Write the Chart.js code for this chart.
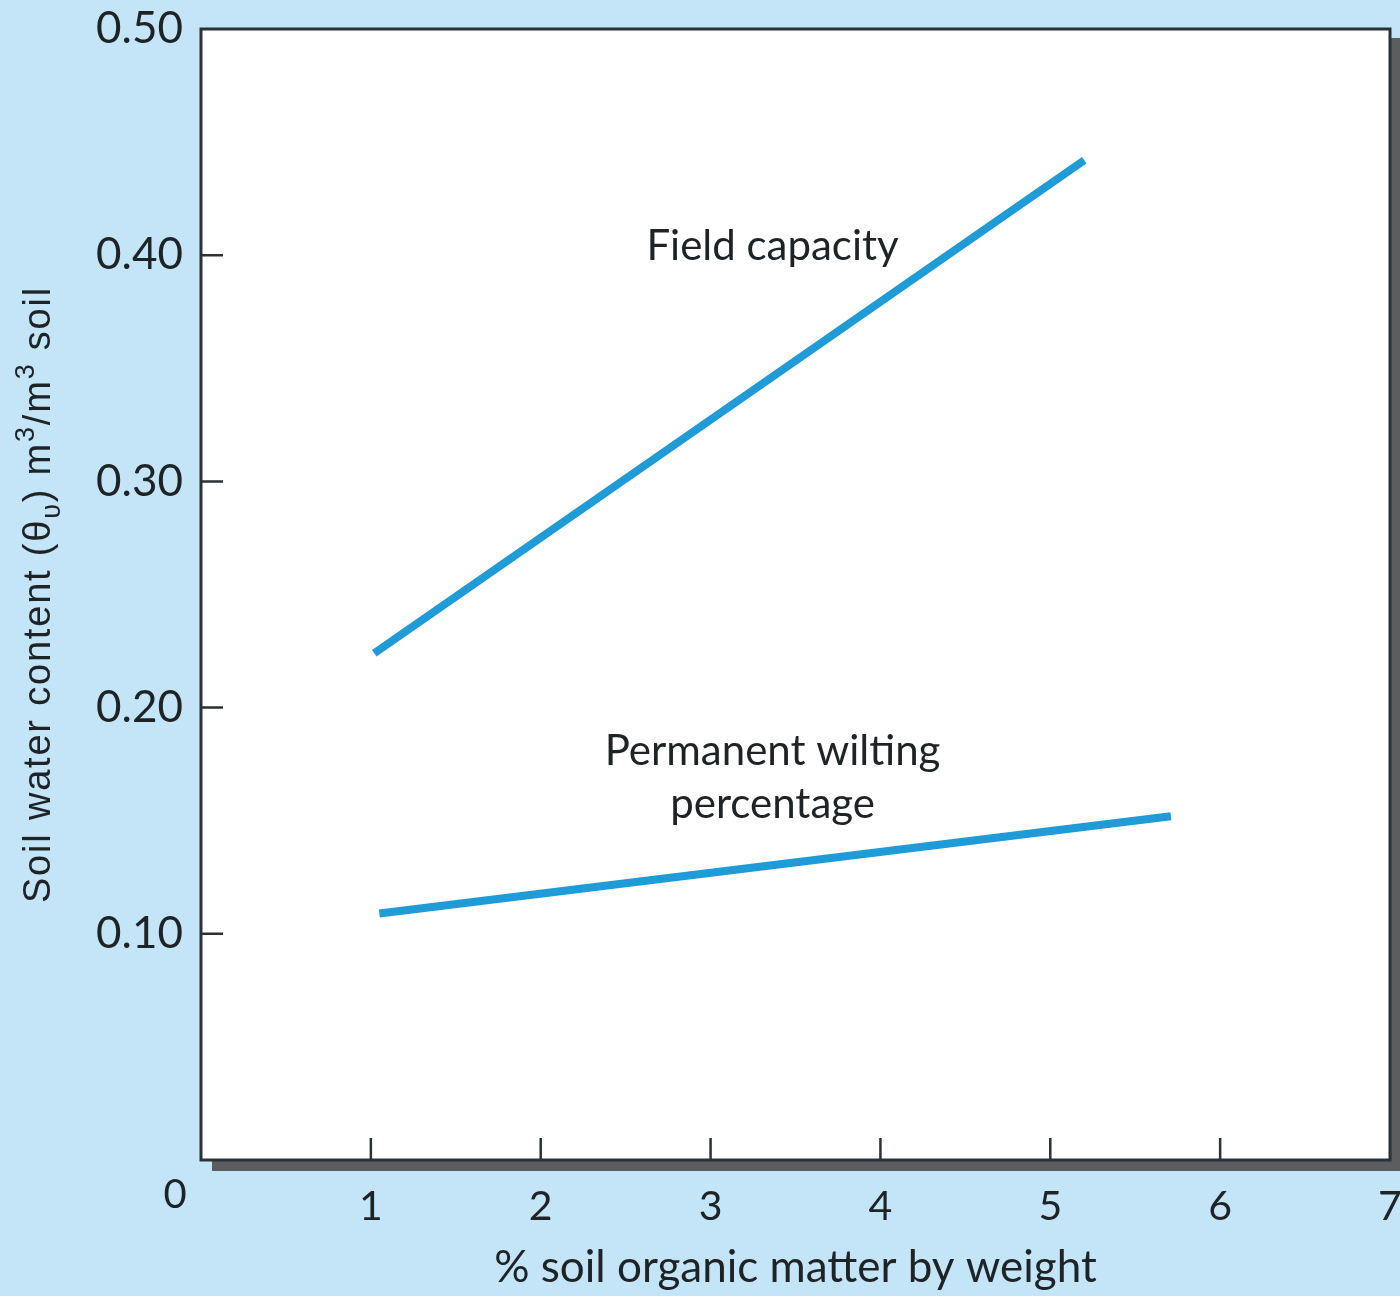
<!DOCTYPE html>
<html>
<head>
<meta charset="utf-8">
<script src="https://cdn.jsdelivr.net/npm/chart.js@4.4.1/dist/chart.umd.min.js"></script>
<style>
  html, body { margin: 0; padding: 0; background: #c4e4f8; }
  #wrap { width: 1400px; height: 1296px; }
</style>
</head>
<body>
<div id="wrap"><canvas id="soilChart" width="1400" height="1296"></canvas></div>
<script>
// values: % organic matter (x) vs water content (y)
const fieldCapacityX = [1.02, 5.20];
const fieldCapacityY = [0.224, 0.442];
const wiltingX = [1.05, 5.71];
const wiltingY = [0.109, 0.152];

const xTickLabels = ['0', '1', '2', '3', '4', '5', '6', '7'];
const yTickLabels = ['', '0.10', '0.20', '0.30', '0.40', '0.50'];

const labelFont = 'Lato, "Open Sans", sans-serif';
const textColor = '#1e2326';
const lineColor = '#1f9bd7';

function toPoints(xs, ys) {
    return xs.map((x, i) => ({ x: x, y: ys[i] }));
}

// plot frame, its drop shadow, inner ticks and the in-plot labels
const framePlugin = {
    id: 'frame',
    beforeDraw(chart) {
        const ctx = chart.ctx;
        const a = chart.chartArea;
        ctx.save();
        ctx.fillStyle = '#c4e4f8';
        ctx.fillRect(0, 0, chart.width, chart.height);
        ctx.fillStyle = '#5b5d5f';
        ctx.fillRect(a.left + 11, a.top + 9, a.right - a.left + 10, a.bottom - a.top + 2);
        ctx.fillStyle = '#ffffff';
        ctx.fillRect(a.left, a.top, a.right - a.left, a.bottom - a.top);
        ctx.restore();
    },
    afterDraw(chart) {
        const ctx = chart.ctx;
        const a = chart.chartArea;
        const xs = chart.scales.x;
        const ys = chart.scales.y;
        ctx.save();
        ctx.strokeStyle = '#2b3236';
        ctx.lineWidth = 3;
        ctx.strokeRect(a.left, a.top, a.right - a.left, a.bottom - a.top);

        ctx.lineWidth = 2.5;
        ctx.beginPath();
        for (let v = 1; v <= 6; v++) {
            const px = xs.getPixelForValue(v);
            ctx.moveTo(px, a.bottom);
            ctx.lineTo(px, a.bottom - 22);
        }
        for (let v = 0.1; v < 0.45; v += 0.1) {
            const py = ys.getPixelForValue(v);
            ctx.moveTo(a.left, py);
            ctx.lineTo(a.left + 22, py);
        }
        ctx.stroke();

        // corner zero
        ctx.fillStyle = textColor;
        ctx.font = '40px ' + labelFont;
        ctx.textAlign = 'center';
        ctx.textBaseline = 'middle';
        ctx.fillText(xTickLabels[0], a.left - 26, a.bottom + 35);

        // series labels
        ctx.font = '42px ' + labelFont;
        ctx.fillText('Field capacity', xs.getPixelForValue(3.365), ys.getPixelForValue(0.404));
        ctx.fillText('Permanent wilting', xs.getPixelForValue(3.365), ys.getPixelForValue(0.1808));
        ctx.fillText('percentage', xs.getPixelForValue(3.365), ys.getPixelForValue(0.157));

        // y axis title with sub/superscripts
        const parts = [
            ['Soil water content (\u03b8', 0],
            ['\u03c5', 1],
            [') m', 0],
            ['3', -1],
            ['/m', 0],
            ['3', -1],
            [' soil', 0]
        ];
        const big = '38px "Liberation Sans", Arial, sans-serif';
        const small = '27px "Liberation Sans", Arial, sans-serif';
        ctx.letterSpacing = '1.8px';
        let total = 0;
        parts.forEach(p => {
            ctx.font = p[1] === 0 ? big : small;
            total += ctx.measureText(p[0]).width;
        });
        ctx.translate(40, (a.top + a.bottom) / 2);
        ctx.rotate(-Math.PI / 2);
        ctx.textAlign = 'left';
        ctx.textBaseline = 'middle';
        let cx = -total / 2;
        parts.forEach(p => {
            ctx.font = p[1] === 0 ? big : small;
            ctx.fillText(p[0], cx, p[1] * 13);
            cx += ctx.measureText(p[0]).width;
        });
        ctx.restore();
    }
};

const ctx = document.getElementById('soilChart');
new Chart(ctx, {
    type: 'line',
    data: {
        datasets: [{
            label: 'Field capacity',
            data: toPoints(fieldCapacityX, fieldCapacityY),
            borderColor: lineColor,
            borderWidth: 8,
            pointRadius: 0
        }, {
            label: 'Permanent wilting percentage',
            data: toPoints(wiltingX, wiltingY),
            borderColor: lineColor,
            borderWidth: 8,
            pointRadius: 0
        }]
    },
    options: {
        responsive: false,
        animation: false,
        layout: { padding: { top: 29, right: 10, left: 0, bottom: 0 } },
        plugins: {
            legend: { display: false },
            tooltip: { enabled: false }
        },
        scales: {
            x: {
                type: 'linear',
                min: 0,
                max: 7,
                afterFit: scale => {
                    scale.height = 136;
                    scale.paddingLeft = 0;
                    scale.paddingRight = 0;
                },
                afterBuildTicks: scale => {
                    scale.ticks = xTickLabels.map((t, i) => ({ value: i }));
                },
                grid: { display: false, drawTicks: false },
                border: { display: false },
                ticks: {
                    padding: 22,
                    color: textColor,
                    font: { family: labelFont, size: 41 },
                    maxRotation: 0,
                    autoSkip: false,
                    callback: (v, i) => i === 0 ? '' : xTickLabels[i]
                },
                title: {
                    display: true,
                    text: '% soil organic matter by weight',
                    color: textColor,
                    font: { family: labelFont, size: 44 },
                    padding: { top: 0, bottom: 2 }
                }
            },
            y: {
                type: 'linear',
                min: 0,
                max: 0.5,
                afterFit: scale => {
                    scale.width = 201;
                    scale.paddingTop = 0;
                    scale.paddingBottom = 0;
                },
                afterBuildTicks: scale => {
                    scale.ticks = yTickLabels.map((t, i) => ({ value: i / 10 }));
                },
                grid: { display: false, drawTicks: false },
                border: { display: false },
                ticks: {
                    padding: 18,
                    color: textColor,
                    font: { family: labelFont, size: 44 },
                    autoSkip: false,
                    callback: (v, i) => yTickLabels[i]
                }
            }
        }
    },
    plugins: [framePlugin]
});
</script>
</body>
</html>
